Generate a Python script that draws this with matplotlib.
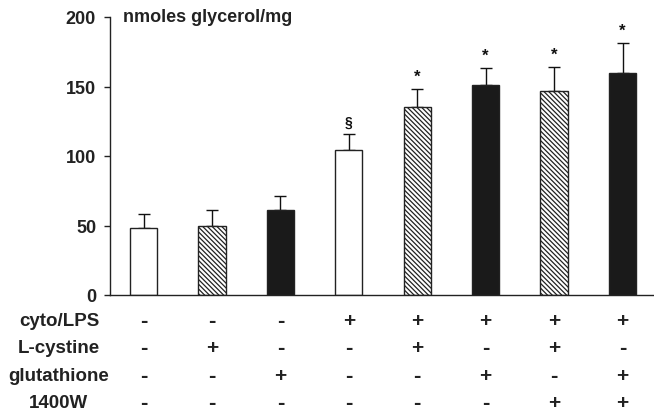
import matplotlib
matplotlib.use("Agg")
import matplotlib.pyplot as plt
from matplotlib.transforms import blended_transform_factory

plt.rcParams['font.family'] = ['Liberation Sans', 'DejaVu Sans']
plt.rcParams['hatch.linewidth'] = 0.9
plt.rcParams['hatch.color'] = '#333333'

values = [48, 49.5, 61, 104.5, 135.5, 151, 147, 160]
errors = [10.5, 11.5, 10.5, 11, 12.5, 12, 17, 21]
styles = ['white', 'hatch', 'black', 'white', 'hatch', 'black', 'hatch', 'black']
marks = ['', '', '', '§', '*', '*', '*', '*']
row_labels = ['cyto/LPS', 'L-cystine', 'glutathione', '1400W']
table = [
    ['-', '-', '-', '+', '+', '+', '+', '+'],
    ['-', '+', '-', '-', '+', '-', '+', '-'],
    ['-', '-', '+', '-', '-', '+', '-', '+'],
    ['-', '-', '-', '-', '-', '-', '+', '+'],
]
yticks = [0, 50, 100, 150, 200]
ylabel = 'nmoles glycerol/mg'

fig = plt.figure(figsize=(6.54, 4.14), dpi=100)
ax = fig.add_axes([110/654, 1-296/414, 1-110/654, (296-18)/414])

for i, (v, e, s) in enumerate(zip(values, errors, styles)):
    if s == 'white':
        fc, h = 'white', None
    elif s == 'black':
        fc, h = '#1a1a1a', None
    else:
        fc, h = 'white', '\\' * 7
    ax.bar(i, v, width=0.4, color=fc, edgecolor='#222222', hatch=h, linewidth=1.0, zorder=2)
    ax.errorbar(i, v, yerr=[[0], [e]], fmt='none', ecolor='#111111', elinewidth=1.0,
                capsize=4.5, capthick=1.0, zorder=1)
    if marks[i]:
        ax.text(i, v + e + 4, marks[i], ha='center', va='bottom', fontsize=12 if marks[i] == '*' else 10,
                fontweight='bold', color='#111111')

ax.set_xlim(-0.49, 7.46)
ax.set_ylim(0, 200)
ax.set_yticks(yticks)
ax.set_yticklabels([str(t) for t in yticks], fontsize=13, fontweight='bold', color='#222222')
ax.tick_params(axis='y', direction='out', length=4, width=1, pad=6, color='#222222')
ax.tick_params(axis='x', length=0, labelbottom=False)
for sp in ['top', 'right']:
    ax.spines[sp].set_visible(False)
for sp in ['left', 'bottom']:
    ax.spines[sp].set_linewidth(1.0)
    ax.spines[sp].set_color('#222222')

ax.text(0.023, 1.0, ylabel, transform=ax.transAxes, ha='left', va='center', fontsize=13,
        fontweight='bold', color='#222222')

row_y = [322, 349, 377, 404]
tr = blended_transform_factory(ax.transData, fig.transFigure)
for r, (lab, yy) in enumerate(zip(row_labels, row_y)):
    fig.text(59/654, 1 - yy/414, lab, ha='center', va='center', fontsize=13.5,
             fontweight='bold', color='#222222')
    for i, sgn in enumerate(table[r]):
        ax.text(i, 1 - yy/414, sgn, transform=tr, ha='center', va='center',
                fontsize=15 if sgn == '+' else 16, fontweight='bold', color='#222222', clip_on=False)

fig.savefig('out.png', dpi=100)
